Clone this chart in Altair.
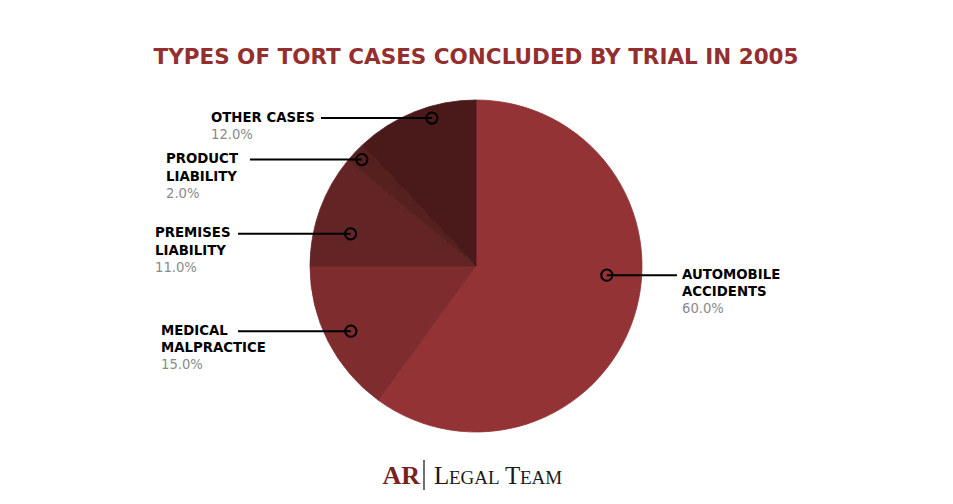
import math
import altair as alt
import pandas as pd

# ---- data ----
categories = ["Automobile Accidents", "Medical Malpractice", "Premises Liability",
              "Product Liability", "Other Cases"]
values = [60.0, 15.0, 11.0, 2.0, 12.0]
label_lines = ["AUTOMOBILE\nACCIDENTS", "MEDICAL\nMALPRACTICE", "PREMISES\nLIABILITY",
               "PRODUCT\nLIABILITY", "OTHER CASES"]
colors = ["#933336", "#7e2c2e", "#632425", "#56201f", "#4a1a1b"]
title_text = "TYPES OF TORT CASES CONCLUDED BY TRIAL IN 2005"

# ---- layout (styles / positions of annotations) ----
W, H = 937, 488
CX, CY, R = 468, 258, 166
angle_shift = [-14.0, -0.5, -5.4, -0.2, 5.0]      # marker angle offset from slice mid (deg)
marker_rfrac = [0.79, 0.85, 0.78, 0.94, 0.93]     # marker distance as fraction of radius
label_x = [674, 153, 147, 158, 203]                # left edge of label block
line_end_x = [669, 230, 230, 242, 313]             # far end of leader line

total = sum(values)
rows = []
cum = 0.0
for i, (c, v) in enumerate(zip(categories, values)):
    mid = (cum + v / 2) / total * 360.0 + angle_shift[i]
    cum += v
    a = math.radians(mid)
    r = R * marker_rfrac[i]
    mx = CX + r * math.sin(a)
    my = CY - r * math.cos(a)
    rows.append(dict(category=c, value=v, order=i, label=label_lines[i],
                     pct=f"{v / total * 100:.1f}%", mx=mx, my=my,
                     lx=label_x[i], lex=line_end_x[i],
                     ty=my - 7.5, py=my - 7 + (17.5 * (label_lines[i].count("\n") + 1))))
df = pd.DataFrame(rows)

color_scale = alt.Scale(domain=categories, range=colors)

pie = alt.Chart(df).mark_arc(strokeWidth=0.8).encode(
    theta=alt.Theta("value:Q", stack=True),
    color=alt.Color("category:N", scale=color_scale, legend=None),
    stroke=alt.Stroke("category:N", scale=color_scale, legend=None),
    order=alt.Order("order:Q"),
    x=alt.value(CX), y=alt.value(CY),
    radius=alt.value(R),
)

base = alt.Chart(df)
lines = base.mark_rule(color="black", strokeWidth=2).encode(
    x=alt.X("lex:Q", scale=None), x2="mx:Q",
    y=alt.Y("my:Q", scale=None),
)
markers = base.mark_point(shape="circle", filled=False, color="black",
                          strokeWidth=2, size=125, opacity=1).encode(
    x=alt.X("mx:Q", scale=None), y=alt.Y("my:Q", scale=None),
)
names = base.mark_text(align="left", baseline="top", font="DejaVu Sans",
                       fontWeight="bold", fontSize=13.3, color="black",
                       lineBreak="\n", lineHeight=17.5).encode(
    x=alt.X("lx:Q", scale=None), y=alt.Y("ty:Q", scale=None), text="label:N",
)
pcts = base.mark_text(align="left", baseline="top", font="DejaVu Sans",
                      fontSize=13.2, color="#8a8a8a").encode(
    x=alt.X("lx:Q", scale=None), y=alt.Y("py:Q", scale=None), text="pct:N",
)

title_df = pd.DataFrame({"t": [title_text]})
title = alt.Chart(title_df).mark_text(
    font="DejaVu Sans", fontWeight="bold", fontSize=21.5, color="#93302f",
    align="center", baseline="alphabetic").encode(
    x=alt.value(468), y=alt.value(56), text="t:N")

logo_df = pd.DataFrame({"ar": ["AR"], "l1": ["L"], "l2": ["EGAL"], "t1": ["T"], "t2": ["EAM"]})
logo_base = alt.Chart(logo_df)
ar = logo_base.mark_text(font="Liberation Serif", fontSize=26, fontWeight="bold", color="#7a1f22",
                         align="right", baseline="alphabetic").encode(
    x=alt.value(412), y=alt.value(476), text="ar:N")
bar = logo_base.mark_rule(color="#222222", strokeWidth=1.3).encode(
    x=alt.value(416), y=alt.value(452), y2=alt.value(482))
L1 = logo_base.mark_text(font="Liberation Serif", fontSize=25, color="#1a1a1a",
                         align="left", baseline="alphabetic").encode(
    x=alt.value(426), y=alt.value(476), text="l1:N")
L2 = logo_base.mark_text(font="Liberation Serif", fontSize=19, color="#1a1a1a",
                         align="left", baseline="alphabetic").encode(
    x=alt.value(441), y=alt.value(476), text="l2:N")
T1 = logo_base.mark_text(font="Liberation Serif", fontSize=25, color="#1a1a1a",
                         align="left", baseline="alphabetic").encode(
    x=alt.value(497), y=alt.value(476), text="t1:N")
T2 = logo_base.mark_text(font="Liberation Serif", fontSize=19, color="#1a1a1a",
                         align="left", baseline="alphabetic").encode(
    x=alt.value(512), y=alt.value(476), text="t2:N")

chart = alt.layer(pie, lines, markers, names, pcts, title, ar, bar, L1, L2, T1, T2).properties(
    width=W, height=H, autosize=alt.AutoSizeParams(type="none"), padding=0,
).configure(background="white", view=alt.ViewConfig(stroke=None))

chart.save("out.html", embed_options={"renderer": "svg", "actions": False})
